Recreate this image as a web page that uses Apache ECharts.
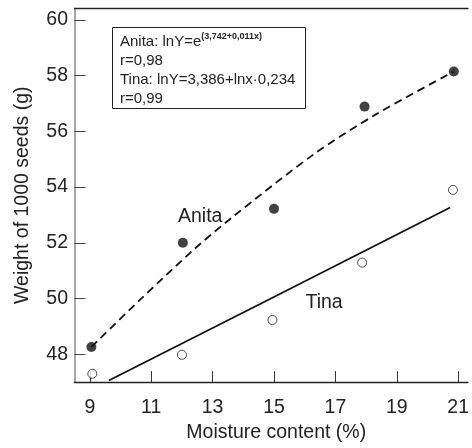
<!DOCTYPE html>
<html><head><meta charset="utf-8">
<script src="https://cdn.jsdelivr.net/npm/echarts@6/dist/echarts.min.js"></script>
<style>html,body{margin:0;padding:0;background:#fff}#c{width:472px;height:448px}</style>
</head><body><div id="c"></div>
<script>
// Observed data
const anitaX = [9.05, 12.03, 15.0, 17.95, 20.86];
const anitaY = [48.26, 52.0, 53.22, 56.89, 58.15];
const tinaX = [9.08, 12.0, 14.95, 17.87, 20.83];
const tinaY = [47.3, 47.98, 49.23, 51.29, 53.9];
// Fitted curves
const anitaFitX = [9.05, 10.64, 12.41, 13.62, 16.31, 18.35, 20.86];
const anitaFitY = [48.26, 49.96, 51.78, 52.9, 55.19, 56.63, 58.15];
const tinaFitX = [9.62, 14.9, 20.74];
const tinaFitY = [47.06, 50.0, 53.27];
const xTicks = [9, 11, 13, 15, 17, 19, 21];
const yTicks = [48, 50, 52, 54, 56, 58, 60];

const zip = (a, b) => a.map((v, i) => [v, b[i]]);
const FONT = '"Liberation Sans", Arial, sans-serif';
const FS = 19.5;
const chart = echarts.init(document.getElementById('c'), null, {renderer: 'canvas'});
chart.setOption({
  animation: false,
  textStyle: {fontFamily: FONT},
  grid: {left: 74.5, top: 8.3, right: 0, bottom: 59, containLabel: false},
  title: {
    left: 112, top: 27,
    borderColor: '#222', borderWidth: 1,
    padding: [5, 10, 1, 8],
    text: 'Anita: lnY=e{sup|(3,742+0,011x)}\nr=0,98\nTina: lnY=3,386+lnx·0,234\nr=0,99',
    textStyle: {
      fontFamily: FONT, fontSize: 15, fontWeight: 'normal', color: '#222', lineHeight: 19,
      rich: {sup: {fontSize: 9, fontWeight: 'bold', verticalAlign: 'top', lineHeight: 19, padding: [0,0,8,0], fontFamily: FONT, color: '#222'}}
    }
  },
  xAxis: [{
    type: 'value', min: 8.5, max: 21.32,
    name: 'Moisture content (%)', nameLocation: 'middle', nameGap: 33,
    nameTextStyle: {fontSize: FS, color: '#222', fontFamily: FONT, padding: [0, 0, 0, 10]},
    axisLine: {show: true, onZero: false, lineStyle: {color: '#222', width: 1.3}},
    axisTick: {show: true, inside: true, length: 11, customValues: xTicks, lineStyle: {color: '#333', width: 1}},
    axisLabel: {customValues: xTicks, fontSize: FS, color: '#222', margin: 16, fontFamily: FONT},
    splitLine: {show: false}
  }, {
    type: 'value', position: 'top', min: 8.5, max: 21.32,
    axisLine: {show: true, lineStyle: {color: '#222', width: 1.3}},
    axisTick: {show: false}, axisLabel: {show: false}, splitLine: {show: false}
  }],
  yAxis: {
    type: 'value', min: 47, max: 60.42,
    name: 'Weight of 1000 seeds (g)', nameLocation: 'middle', nameGap: 42,
    nameTextStyle: {fontSize: FS, color: '#222', fontFamily: FONT},
    axisLine: {show: true, onZero: false, lineStyle: {color: '#888', width: 1.5}},
    axisTick: {show: true, inside: true, length: 11, customValues: yTicks, lineStyle: {color: '#444', width: 1}},
    axisLabel: {customValues: yTicks, fontSize: FS, color: '#222', margin: 6.5, fontFamily: FONT},
    splitLine: {show: false}
  },
  graphic: [
    {type: 'text', left: 178, top: 206.5, style: {text: 'Anita', fontSize: FS, fill: '#222', fontFamily: FONT}},
    {type: 'text', left: 305.5, top: 293, style: {text: 'Tina', fontSize: FS, fill: '#222', fontFamily: FONT}}
  ],
  series: [
    {type: 'line', data: zip(anitaFitX, anitaFitY), smooth: 0.3, showSymbol: false, symbol: 'none',
     lineStyle: {color: '#111', width: 1.8, type: [8, 5]}, z: 2},
    {type: 'line', data: zip(tinaFitX, tinaFitY), smooth: false, showSymbol: false, symbol: 'none',
     lineStyle: {color: '#111', width: 1.8}, z: 2},
    {type: 'scatter', data: zip(anitaX, anitaY), symbol: 'circle', symbolSize: 10,
     itemStyle: {color: '#111', borderColor: '#111', borderWidth: 0}, z: 3},
    {type: 'scatter', data: zip(tinaX, tinaY), symbol: 'circle', symbolSize: 9,
     itemStyle: {color: '#fff', borderColor: '#222', borderWidth: 1}, z: 3}
  ]
});
</script></body></html>
